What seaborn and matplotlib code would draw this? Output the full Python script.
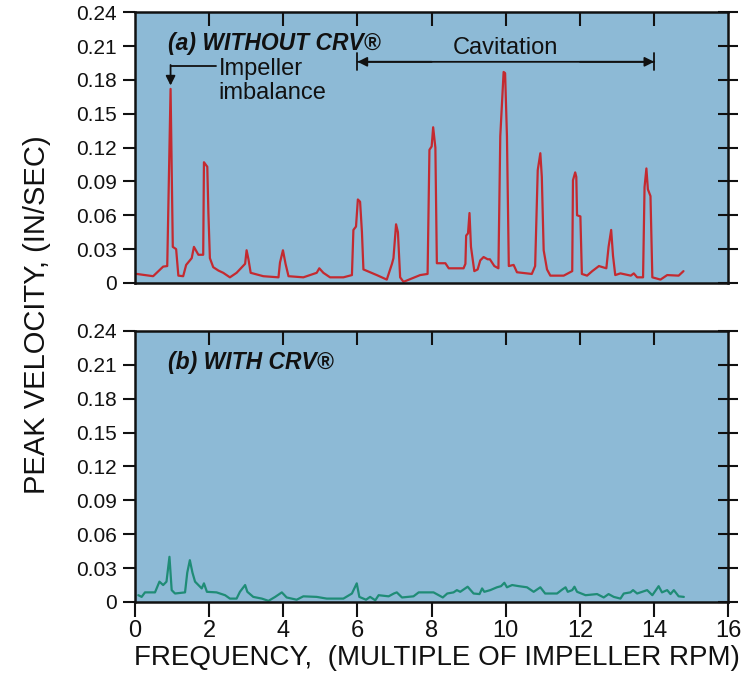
import numpy as np
import pandas as pd
import matplotlib
matplotlib.use("Agg")
import matplotlib.pyplot as plt
import seaborn as sns

# spectrum without CRV (red trace)
freq_a = [0.05, 0.49, 0.76, 0.87, 0.96, 1.02, 1.11, 1.17, 1.30, 1.38, 1.53, 1.59, 1.71, 1.84,
          1.86, 1.95, 1.98, 2.02, 2.11, 2.25, 2.38, 2.56, 2.74, 2.97, 3.01, 3.06, 3.12, 3.46,
          3.87, 3.91, 3.99, 4.06, 4.14, 4.54, 4.90, 4.97, 5.08, 5.26, 5.62, 5.85, 5.89, 5.96,
          6.01, 6.07, 6.12, 6.16, 6.52, 6.79, 6.93, 6.97, 7.04, 7.09, 7.15, 7.24, 7.69, 7.89,
          7.94, 8.00, 8.04, 8.10, 8.14, 8.37, 8.46, 8.86, 8.91, 8.93, 8.98, 9.02, 9.06, 9.15,
          9.24, 9.31, 9.40, 9.51, 9.57, 9.69, 9.80, 9.85, 9.94, 9.98, 10.03, 10.08, 10.21, 10.30,
          10.70, 10.79, 10.86, 10.93, 10.97, 11.02, 11.11, 11.20, 11.56, 11.79, 11.81, 11.87,
          11.90, 11.92, 12.01, 12.05, 12.19, 12.33, 12.51, 12.71, 12.77, 12.84, 12.89, 12.95,
          13.09, 13.37, 13.45, 13.54, 13.70, 13.74, 13.79, 13.83, 13.90, 13.95, 14.17, 14.35,
          14.66, 14.79]
vel_a = [0.008, 0.006, 0.0145, 0.015, 0.172, 0.032, 0.030, 0.0065, 0.006, 0.016, 0.022, 0.032,
         0.025, 0.025, 0.107, 0.103, 0.062, 0.022, 0.014, 0.011, 0.009, 0.005, 0.009, 0.017,
         0.029, 0.021, 0.009, 0.006, 0.005, 0.018, 0.029, 0.017, 0.006, 0.005, 0.009, 0.013,
         0.009, 0.005, 0.005, 0.007, 0.047, 0.050, 0.074, 0.072, 0.045, 0.012, 0.007, 0.003,
         0.017, 0.022, 0.052, 0.045, 0.005, 0.001, 0.007, 0.008, 0.118, 0.121, 0.138, 0.120,
         0.0175, 0.0175, 0.013, 0.013, 0.017, 0.042, 0.044, 0.062, 0.032, 0.0105, 0.012, 0.020,
         0.023, 0.021, 0.021, 0.015, 0.013, 0.130, 0.187, 0.186, 0.130, 0.015, 0.016, 0.0095,
         0.008, 0.015, 0.100, 0.115, 0.094, 0.029, 0.012, 0.0065, 0.0065, 0.0105, 0.091, 0.098,
         0.094, 0.060, 0.059, 0.008, 0.0065, 0.0105, 0.015, 0.013, 0.032, 0.047, 0.024, 0.007,
         0.0085, 0.0065, 0.0085, 0.005, 0.005, 0.085, 0.1015, 0.083, 0.077, 0.005, 0.003, 0.007,
         0.0065, 0.0105]

# spectrum with CRV (green trace)
freq_b = [0.09, 0.18, 0.27, 0.54, 0.66, 0.76, 0.85, 0.93, 0.99, 1.08, 1.35, 1.41, 1.48, 1.55,
          1.62, 1.71, 1.80, 1.86, 1.94, 2.20, 2.43, 2.56, 2.74, 2.83, 2.97, 3.03, 3.19, 3.42,
          3.60, 3.78, 3.96, 4.09, 4.36, 4.54, 4.90, 5.17, 5.35, 5.62, 5.85, 5.98, 6.05, 6.23,
          6.34, 6.48, 6.57, 6.84, 6.98, 7.06, 7.20, 7.51, 7.65, 8.05, 8.19, 8.30, 8.42, 8.59,
          8.68, 8.77, 8.97, 9.13, 9.29, 9.36, 9.42, 9.58, 9.76, 9.87, 9.96, 10.03, 10.17, 10.35,
          10.57, 10.75, 10.93, 11.06, 11.38, 11.52, 11.61, 11.67, 11.79, 11.85, 11.92, 12.15,
          12.46, 12.64, 12.77, 12.91, 13.09, 13.18, 13.36, 13.43, 13.54, 13.81, 13.95, 14.12,
          14.21, 14.35, 14.44, 14.53, 14.66, 14.80]
vel_b = [0.006, 0.0045, 0.0085, 0.0085, 0.018, 0.015, 0.018, 0.040, 0.0105, 0.0075, 0.0085,
         0.026, 0.037, 0.026, 0.018, 0.015, 0.012, 0.0165, 0.009, 0.0085, 0.006, 0.003, 0.003,
         0.009, 0.015, 0.009, 0.0045, 0.003, 0.001, 0.0045, 0.0085, 0.004, 0.002, 0.005, 0.0045,
         0.003, 0.003, 0.003, 0.0075, 0.0165, 0.0045, 0.002, 0.0045, 0.0015, 0.006, 0.005, 0.0075,
         0.0085, 0.004, 0.005, 0.0085, 0.0085, 0.006, 0.004, 0.0075, 0.0085, 0.0105, 0.009,
         0.0135, 0.0075, 0.007, 0.012, 0.009, 0.0105, 0.013, 0.014, 0.017, 0.013, 0.015, 0.014,
         0.013, 0.009, 0.013, 0.0075, 0.0075, 0.011, 0.013, 0.009, 0.0105, 0.0135, 0.009, 0.006,
         0.007, 0.004, 0.007, 0.0045, 0.003, 0.0075, 0.0085, 0.0105, 0.0075, 0.0105, 0.006,
         0.014, 0.0085, 0.0105, 0.007, 0.0105, 0.005, 0.0045]

y_ticks = [0, 0.03, 0.06, 0.09, 0.12, 0.15, 0.18, 0.21, 0.24]
y_labels = ["0", "0.03", "0.06", "0.09", "0.12", "0.15", "0.18", "0.21", "0.24"]
x_ticks = [0, 2, 4, 6, 8, 10, 12, 14, 16]

sns.set_theme(style="ticks")
plt.rcParams["font.family"] = ["Liberation Sans", "DejaVu Sans"]

bg = "#8dbad6"
red = "#c42a30"
green = "#1f8c76"
ink = "#111111"

fig = plt.figure(figsize=(7.54, 6.76), dpi=100)
fig.patch.set_facecolor("white")
ax_a = fig.add_axes([0.179, 0.5814, 0.787, 0.4006])
ax_b = fig.add_axes([0.179, 0.1095, 0.787, 0.4009])

df_a = pd.DataFrame({"freq": freq_a, "vel": vel_a})
df_b = pd.DataFrame({"freq": freq_b, "vel": vel_b})
sns.lineplot(data=df_a, x="freq", y="vel", color=red, lw=1.6, estimator=None, ax=ax_a)
sns.lineplot(data=df_b, x="freq", y="vel", color=green, lw=1.6, estimator=None, ax=ax_b)

for ax in (ax_a, ax_b):
    ax.set_facecolor(bg)
    ax.set_xlim(0, 16)
    ax.set_ylim(0, 0.24)
    ax.set_xlabel("")
    ax.set_ylabel("")
    ax.set_yticks(y_ticks)
    ax.set_yticklabels(y_labels)
    ax.set_xticks(x_ticks)
    for s in ax.spines.values():
        s.set_visible(True)
        s.set_linewidth(1.8)
        s.set_color(ink)
    ax.tick_params(axis="y", direction="out", length=9, width=1.5, colors=ink,
                   labelsize=15, pad=4, right=False)
    # right side ticks cross the frame, top ticks point inward
    sec_r = ax.secondary_yaxis("right")
    sec_r.set_yticks(y_ticks)
    sec_r.tick_params(direction="inout", length=14, width=1.5, labelright=False, colors=ink)
    sec_r.spines["right"].set_visible(False)
    sec_t = ax.secondary_xaxis("top")
    sec_t.set_xticks(x_ticks[1:-1])
    sec_t.tick_params(direction="in", length=10, width=1.5, labeltop=False, colors=ink)
    sec_t.spines["top"].set_visible(False)

ax_a.tick_params(axis="x", bottom=False, labelbottom=False)
ax_b.tick_params(axis="x", direction="out", length=11, width=1.5, colors=ink,
                 labelsize=17, pad=2)
ax_b.set_xticklabels([str(t) for t in x_ticks])

# panel titles
ax_a.text(0.88, 0.2125, "(a) WITHOUT CRV\u00ae", fontsize=16.5, fontweight="bold",
          fontstyle="italic", color=ink, va="center", ha="left")
ax_b.text(0.88, 0.212, "(b) WITH CRV\u00ae", fontsize=16.5, fontweight="bold",
          fontstyle="italic", color=ink, va="center", ha="left")

# impeller imbalance callout
ax_a.text(2.25, 0.1895, "Impeller", fontsize=17, color=ink, va="center", ha="left")
ax_a.text(2.25, 0.1685, "imbalance", fontsize=17, color=ink, va="center", ha="left")
ax_a.plot([0.96, 2.18], [0.1925, 0.1925], color=ink, lw=1.3)
ax_a.annotate("", xy=(0.96, 0.175), xytext=(0.96, 0.1932),
              arrowprops=dict(arrowstyle="-|>", color=ink, lw=1.3, mutation_scale=14,
                              shrinkA=0, shrinkB=0))

# cavitation range
ax_a.annotate("", xy=(6.0, 0.196), xytext=(14.0, 0.196),
              arrowprops=dict(arrowstyle="|-|", color=ink, lw=1.3, mutation_scale=6,
                              shrinkA=0, shrinkB=0))
ax_a.annotate("", xy=(6.0, 0.196), xytext=(8.0, 0.196),
              arrowprops=dict(arrowstyle="-|>", color=ink, lw=1.3, mutation_scale=14,
                              shrinkA=0, shrinkB=0))
ax_a.annotate("", xy=(14.0, 0.196), xytext=(12.0, 0.196),
              arrowprops=dict(arrowstyle="-|>", color=ink, lw=1.3, mutation_scale=14,
                              shrinkA=0, shrinkB=0))
ax_a.text(10.0, 0.2085, "Cavitation", fontsize=17, color=ink, va="center", ha="center")

fig.text(0.58, 0.026, "FREQUENCY,  (MULTIPLE OF IMPELLER RPM)", fontsize=20,
         color=ink, ha="center", va="center")
fig.text(0.049, 0.535, "PEAK VELOCITY, (IN/SEC)", fontsize=21, color=ink,
         ha="center", va="center", rotation=90)

plt.savefig("out.png", dpi=100)
